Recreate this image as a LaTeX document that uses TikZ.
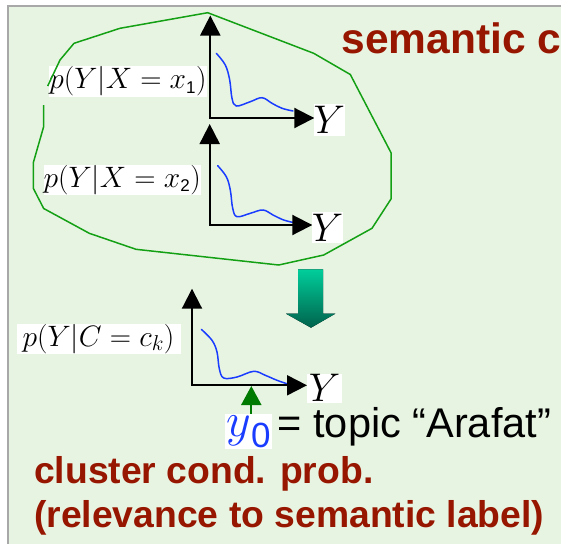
\RequirePackage{fix-cm}
\documentclass[tikz,border=0pt]{standalone}
\usepackage{fontspec}
\newfontfamily\arial{Liberation Sans}
\usetikzlibrary{arrows.meta}
\definecolor{bg}{RGB}{232,244,226}
\definecolor{framegray}{RGB}{168,168,168}
\definecolor{hull}{RGB}{20,160,20}
\definecolor{curveblue}{RGB}{25,60,255}
\definecolor{darkred}{RGB}{150,22,0}
\definecolor{tealtop}{RGB}{0,206,155}
\definecolor{tealbot}{RGB}{0,98,76}
\definecolor{upgreen}{RGB}{0,122,0}
\newcommand{\sfsub}[1]{\hbox{\arial\fontsize{17}{17}\selectfont #1}}
\newcommand{\itsub}[1]{\hbox{\fontsize{21.5}{21.5}\selectfont$#1$}}
\begin{document}
\begin{tikzpicture}[x=1pt,y=-1pt,
  axis/.style={line width=2pt, black, {Triangle[length=20pt,width=20pt]}-{Triangle[length=20pt,width=20pt]}},
  dens/.style={curveblue, line width=1.5pt, line cap=round},
  mlabel/.style={fill=white, inner sep=0pt, font=\fontsize{29.5}{30}\selectfont},
  ylabel/.style={fill=white, inner sep=0pt, font=\fontsize{40}{40}\selectfont},
  redtext/.style={text=darkred, inner sep=0pt, anchor=base west, font=\arial\bfseries\fontsize{37.3}{40}\selectfont},
  uparrow/.style={upgreen, line width=2pt, -{Triangle[length=19pt,width=20pt]}}
]
\useasboundingbox (0,0) rectangle (561,544);
% background panel
\fill[bg] (8.3,5.7) rectangle (561,544);
\draw[framegray, line width=2pt] (8.3,544) -- (8.3,5.7) -- (561,5.7);

% title
\node[redtext, font=\arial\bfseries\fontsize{42.5}{45}\selectfont] (title) at (341.3,53.3) {semantic c};

% graph 1
\coordinate (v1) at (210.3,15.5);
\coordinate (o1) at (210.3,118);
\coordinate (h1) at (314.3,118);
\draw[dens] plot[smooth, tension=0.6] coordinates {(216.3,53.3) (225.3,65) (229.7,80) (232,98.3) (236.3,106) (250.3,101.7) (262,97.7) (272,103.3) (282,108.3) (293,111)};
\draw[axis] (v1) -- (o1) -- (h1);
\node[mlabel, minimum width=155pt, minimum height=30.7pt] (lab1) at (128,81.3) {$p(Y|X=x_{\sfsub{1}})$};
\node[ylabel, minimum width=30pt, minimum height=31.4pt] (ylab1) at (329.3,120) {$Y$};

% graph 2
\coordinate (v2) at (209.7,124);
\coordinate (o2) at (209.7,225);
\coordinate (h2) at (312.3,225);
\draw[dens] plot[smooth, tension=0.6] coordinates {(217.7,165.7) (226.3,176.7) (230.3,190) (232.7,208.3) (237,216.7) (250.3,213.3) (263,210) (273,215) (283.7,220) (294.3,222.7)};
\draw[axis] (v2) -- (o2) -- (h2);
\node[mlabel, minimum width=153pt, minimum height=30pt] (lab2) at (122.2,180) {$p(Y|X=x_{\sfsub{2}})$};
\node[ylabel, minimum width=30.4pt, minimum height=31.6pt] (ylab2) at (327.5,227.5) {$Y$};

% cluster outline (drawn over the first label's corner, as in the original)
\draw[hull, line width=1.5pt, line join=round] (43.7,105) -- (43.7,126.5) -- (33.3,162.7) -- (33.3,188.3)
  -- (43.7,208.5) -- (89.3,233.3) -- (136,249.3) -- (278.7,265) -- (323.7,255) -- (372,228.3)
  -- (391,199) -- (391,152.7) -- (350.3,74.5) -- (313.7,53.3) -- (207.7,12.7) -- (120,28.3)
  -- (74,43.3) -- (60,60) -- (47.7,86);

% block arrow
\fill[top color=tealtop, bottom color=tealbot] (298,269.3) -- (323,269.3) -- (323,313.7) -- (335.3,313.7)
  -- (311,327.7) -- (286,313.7) -- (298,313.7) -- cycle;

% graph 3
\coordinate (v3) at (192,288.7);
\coordinate (o3) at (192,385.3);
\coordinate (h3) at (307,385.3);
\draw[dens] plot[smooth, tension=0.6] coordinates {(201.3,329.3) (212,340.3) (217,352) (219.3,368.7) (223.7,378) (237,377) (253.7,371.3) (265.3,375.3) (277,380.3) (287,383.7)};
\draw[axis] (v3) -- (o3) -- (h3);
\node[mlabel, minimum width=164pt, minimum height=30pt] (lab3) at (98.5,338.7) {$p(Y|C=c_{\itsub{k}})$};
\node[ylabel, minimum width=35pt, minimum height=29pt] (ylab3) at (324.5,388.2) {$Y$};

% y0 marker
\node[fill=white, inner xsep=1.6pt, inner ysep=1.6pt, anchor=base west, text=curveblue] (y0) at (224.7,436)
  {\fontsize{48}{48}\selectfont$y$\raisebox{-11pt}{\arial\fontsize{35}{35}\selectfont 0}};
\coordinate (y0tip) at (251.3,386);
\draw[uparrow] (y0.north -| y0tip) -- (y0tip);
\node[anchor=base west, inner sep=0pt, font=\arial\fontsize{41.5}{44}\selectfont] (topic) at (277.5,437.7) {= topic “Arafat”};

% caption
\node[redtext] (cond) at (34,483.7) {cluster cond. prob.};
\node[redtext] (rel) at (34,527) {(relevance to semantic label)};
\end{tikzpicture}
\end{document}
